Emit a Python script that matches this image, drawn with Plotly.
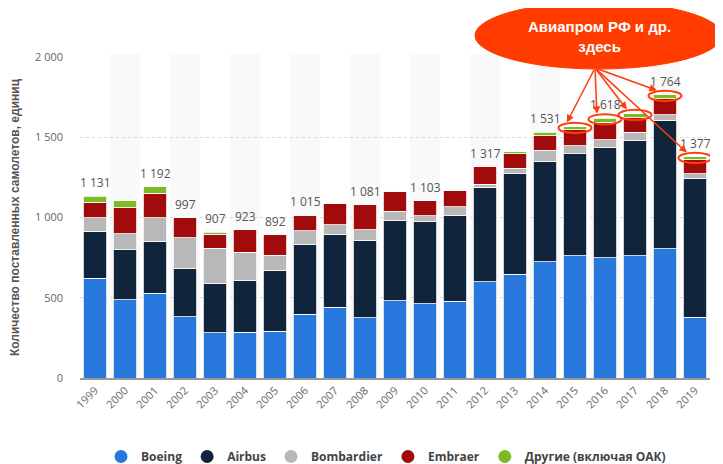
import plotly.graph_objects as go

years = list(range(1999, 2020))
year_labels = [str(y) for y in years]
boeing = [620, 489, 527, 381, 281, 285, 290, 398, 441, 375, 481, 462, 477, 601, 648, 723, 762, 748, 763, 806, 380]
airbus = [294, 311, 325, 303, 305, 320, 378, 434, 453, 483, 498, 510, 534, 588, 626, 629, 635, 688, 718, 800, 863]
bombardier = [85, 100, 147, 190, 222, 178, 96, 86, 61, 66, 59, 39, 55, 18, 32, 68, 50, 50, 50, 35, 30]
embraer = [97, 160, 152, 123, 89, 140, 128, 97, 133, 157, 127, 92, 100, 110, 90, 90, 100, 108, 92, 98, 88]
others = [35, 45, 41, 0, 10, 0, 0, 0, 0, 0, 0, 0, 0, 0, 14, 21, 17, 24, 22, 25, 16]

series_names = ["Boeing", "Airbus", "Bombardier", "Embraer", "Другие (включая ОАК)"]
series_colors = ["#2877dc", "#10243b", "#b8b8b8", "#a20b0b", "#7dbb23"]
labelled_years = [1999, 2001, 2002, 2003, 2004, 2005, 2006, 2008, 2010, 2012, 2014, 2016, 2018, 2019]
highlight_years = [2015, 2016, 2017, 2018, 2019]
callout_text = "Авиапром РФ и др.<br>здесь"

series = [boeing, airbus, bombardier, embraer, others]
totals = [sum(v) for v in zip(*series)]

# geometry (the page body adds an 8px offset, so figure coords = page coords - 8)
OFF = 8
W, H = 723 - OFF, 464 - OFF
ML, MT = 80 - OFF, 57 - OFF
PW, PH = 630, 321
MR, MB = W - ML - PW, H - MT - PH
YMAX = 2000
X0, X1 = years[0] - 0.5, years[-1] + 0.5


def px_x(v):
    return ML + (v - X0) / (X1 - X0) * PW


def px_y(v):
    return MT + PH * (1 - v / YMAX)


def paper_x(page_x):
    return (page_x - OFF - ML) / PW


def paper_y(page_y):
    return (MT + PH - (page_y - OFF)) / PH


fig = go.Figure()
for name, vals, col in zip(series_names, series, series_colors):
    fig.add_trace(go.Bar(
        x=years, y=vals, name=name, marker=dict(color=col, line=dict(color="white", width=0.8)),
        showlegend=False, legendgroup=name,
        hovertemplate="%{x}: %{y}<extra>" + name + "</extra>"))
    fig.add_trace(go.Scatter(
        x=[None], y=[None], mode="markers", name=name, legendgroup=name,
        marker=dict(color=col, size=13, symbol="circle")))

shapes = []
# alternating column background bands
for y in years[1::2]:
    shapes.append(dict(type="rect", xref="x", yref="paper", x0=y - 0.5, x1=y + 0.5, y0=0, y1=1.01,
                       fillcolor="#f9f9f9", line=dict(width=0), layer="below"))

annotations = []
for y, t in zip(years, totals):
    if y in labelled_years:
        annotations.append(dict(x=y, y=t, text=f"{t:,}".replace(",", " "), showarrow=False,
                                yanchor="bottom", yshift=3,
                                font=dict(family="Open Sans", size=12, color="#555")))

# highlight ellipses and arrows
tail_page = (595, 68)
tail_px = (tail_page[0] - OFF, tail_page[1] - OFF)
for y in highlight_years:
    t = totals[years.index(y)]
    shapes.append(dict(type="circle", xref="x", yref="y", x0=y - 0.55, x1=y + 0.55,
                       y0=t - 38, y1=t + 26, line=dict(color="#ff3b0a", width=2),
                       fillcolor="rgba(0,0,0,0)", layer="above"))
    hxv = y - 0.27
    hyv = t + 28
    annotations.append(dict(x=hxv, y=hyv, xref="x", yref="y", text="",
                            showarrow=True, arrowhead=2, arrowsize=1, arrowwidth=1.5,
                            arrowcolor="#ff3b0a",
                            ax=tail_px[0] - px_x(hxv), ay=tail_px[1] - px_y(hyv)))

# callout ellipse
shapes.append(dict(type="circle", xref="paper", yref="paper",
                   x0=paper_x(475), x1=paper_x(722), y0=paper_y(69), y1=paper_y(2),
                   fillcolor="#ff3b00", line=dict(color="#ff3b00", width=1), layer="above"))
annotations.append(dict(xref="paper", yref="paper", x=paper_x(599), y=paper_y(36),
                        xanchor="center", yanchor="middle",
                        text=callout_text, showarrow=False, align="center",
                        font=dict(family="Liberation Sans", size=15, color="white", weight="bold")))

fig.update_layout(
    width=W, height=H, barmode="stack", bargap=0.22,
    margin=dict(l=ML, r=MR, t=MT, b=MB, autoexpand=False),
    paper_bgcolor="white", plot_bgcolor="white",
    separators=", ",
    shapes=shapes, annotations=annotations,
    legend=dict(orientation="h", x=paper_x(386), xanchor="center", y=paper_y(442), yanchor="top",
                font=dict(family="Open Sans", size=12, color="#444", weight="bold"),
                itemwidth=30, tracegroupgap=0),
    xaxis=dict(range=[X0, X1], tickvals=years, ticktext=year_labels, tickangle=-45,
               showgrid=False, showline=True, zeroline=False, automargin=False,
               linecolor="#999", linewidth=1.5, ticks="",
               tickfont=dict(family="Open Sans", size=11, color="#666")),
    yaxis=dict(range=[0, YMAX], tickvals=[0, 500, 1000, 1500, 2000], tickformat=",d",
               showgrid=True, gridcolor="#d9d9d9", griddash="dot", zeroline=False,
               ticklabelstandoff=16, automargin=False,
               tickfont=dict(family="Open Sans", size=11, color="#666"),
               title=dict(text="Количество поставленных самолетов, единиц", standoff=12,
                          font=dict(family="Liberation Sans", size=12, color="#555", weight="bold"))),
    font=dict(family="Open Sans"),
)

fig.write_html("out.html")
